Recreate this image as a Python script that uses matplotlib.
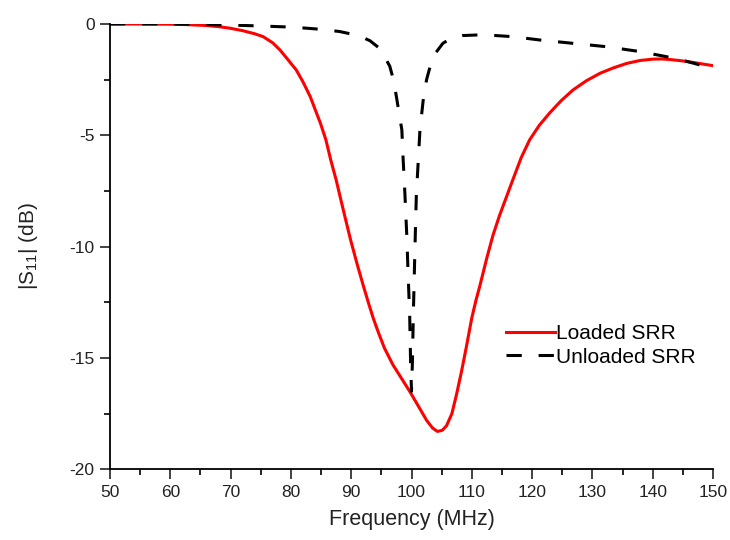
import matplotlib
matplotlib.use("Agg")
from matplotlib import pyplot as plt
from matplotlib.ticker import MultipleLocator

plt.rcParams['font.family'] = ['Liberation Sans', 'DejaVu Sans']
plt.rcParams['mathtext.fontset'] = 'custom'
plt.rcParams['mathtext.rm'] = 'Liberation Sans'
plt.rcParams['mathtext.it'] = 'Liberation Sans'
plt.rcParams['axes.unicode_minus'] = False

# loaded SRR response
loaded_f = [50, 55, 60, 63, 66, 68, 69.9, 72, 74, 75.4, 77, 78.2, 79.5, 80.9, 82,
            83.2, 84.9, 85.8, 86.6, 87.5, 88.2, 89, 89.9, 91, 92, 93, 93.7, 94.5,
            95.5, 96.9, 98.3, 99.7, 101, 102.5, 103.5, 104.3, 105.1, 105.8, 106.7,
            107.5, 108.3, 109.1, 110, 110.7, 111.3, 112.5, 113.5, 114.6, 115.7,
            116.8, 118.2, 119.6, 121.2, 122.9, 124.8, 126.8, 129, 131.3, 133.5,
            135.7, 137.9, 140, 141.5, 143, 145, 147, 149, 150]
loaded_db = [0.0, 0.0, -0.01, -0.03, -0.07, -0.12, -0.19, -0.3, -0.44, -0.57, -0.85,
             -1.17, -1.6, -2.07, -2.6, -3.26, -4.46, -5.2, -6.1, -7.0, -7.8, -8.7,
             -9.7, -10.8, -11.75, -12.65, -13.25, -13.85, -14.55, -15.3, -15.9,
             -16.5, -17.1, -17.8, -18.15, -18.3, -18.25, -18.05, -17.5, -16.6,
             -15.6, -14.5, -13.2, -12.4, -11.8, -10.5, -9.5, -8.6, -7.8, -7.0, -6.0,
             -5.2, -4.55, -4.0, -3.45, -2.96, -2.55, -2.21, -1.97, -1.77, -1.64,
             -1.58, -1.57, -1.6, -1.66, -1.74, -1.83, -1.87]

# unloaded SRR response
unloaded_f = [50, 60, 65, 70, 75, 80, 82.6, 85, 88.1, 90, 91.6, 93.1, 94.5, 95.5,
              96.4, 97, 97.5, 98, 98.4, 98.6, 98.9, 99.2, 99.45, 99.7, 99.85, 100.0,
              100.15, 100.3, 100.55, 100.8, 101.1, 101.4, 102.0, 102.5, 103.1, 104,
              105.2, 106.5, 108.5, 111.3, 114, 116.8, 121.3, 126.8, 132.3, 137.9,
              142.3, 145, 147.8, 150]
unloaded_db = [0.0, 0.0, -0.02, -0.05, -0.09, -0.14, -0.19, -0.24, -0.34, -0.45,
               -0.57, -0.75, -1.05, -1.45, -1.9, -2.5, -3.27, -4.1, -4.76, -6.0,
               -7.6, -9.4, -11.3, -13.1, -15.2, -16.5, -15.2, -13.1, -10.3, -7.7,
               -6.25, -4.76, -3.27, -2.5, -1.9, -1.3, -0.87, -0.65, -0.52, -0.49,
               -0.52, -0.57, -0.72, -0.87, -1.02, -1.24, -1.47, -1.63, -1.84, -1.92]

fig = plt.figure(figsize=(7.3, 5.4), dpi=100)
ax = fig.add_axes([0.1507, 0.131, 0.826, 0.8246])

ax.plot(loaded_f, loaded_db, color='#ff0000', lw=2.2, label='Loaded SRR')
ax.plot(unloaded_f, unloaded_db, color='black', lw=2.2,
        linestyle=(0, (5.0, 5.5)), label='Unloaded SRR')

ax.set_xlim(50, 150)
ax.set_ylim(-20, 0)
ax.xaxis.set_major_locator(MultipleLocator(10))
ax.xaxis.set_minor_locator(MultipleLocator(5))
ax.yaxis.set_major_locator(MultipleLocator(5))
ax.yaxis.set_minor_locator(MultipleLocator(2.5))

for side in ['top', 'right']:
    ax.spines[side].set_visible(False)
for side in ['left', 'bottom']:
    ax.spines[side].set_linewidth(1.3)

ax.tick_params(which='major', direction='out', length=7, width=1.2,
               labelsize=12.5, colors='#222222', pad=4)
ax.tick_params(which='minor', direction='out', length=4, width=1.2)
ax.set_xlabel('Frequency (MHz)', fontsize=15.5, labelpad=7, color='#222222')
ax.set_ylabel('|S$_{11}$| (dB)', fontsize=15, labelpad=21, color='#222222')

ax.legend(loc='center left', bbox_to_anchor=(0.656, 0.278), frameon=False,
          borderpad=0, borderaxespad=0, fontsize=15, handlelength=2.35,
          handletextpad=0.05, labelspacing=0.2)

fig.savefig('out.png', dpi=100)
